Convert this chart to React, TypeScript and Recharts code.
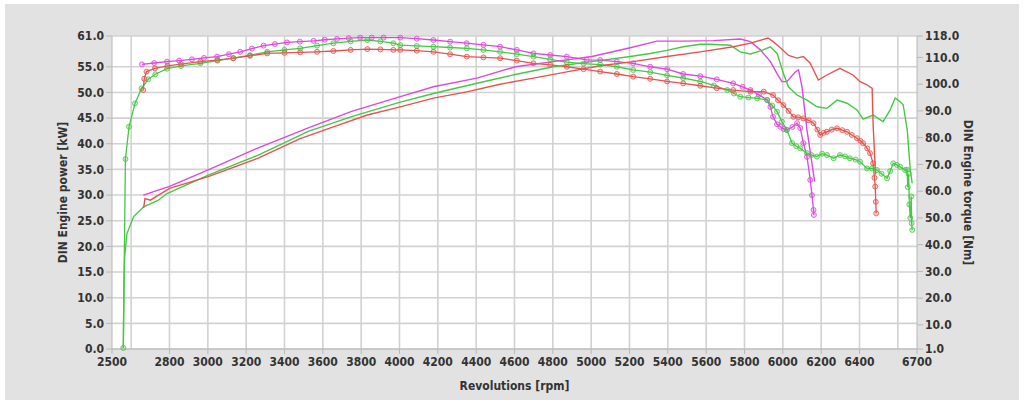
import React from 'react';
import { LineChart, Line, XAxis, YAxis, CartesianGrid, ReferenceLine, Label } from 'recharts';

const FONT = '"DejaVu Sans Condensed", "DejaVu Sans", sans-serif';

const xTicks = [2500, 2800, 3000, 3200, 3400, 3600, 3800, 4000, 4200, 4400, 4600, 4800, 5000, 5200, 5400, 5600, 5800, 6000, 6200, 6400, 6700];
const xGrid = [2600, 2800, 3000, 3200, 3400, 3600, 3800, 4000, 4200, 4400, 4600, 4800, 5000, 5200, 5400, 5600, 5800, 6000, 6200, 6400, 6600];
const powerTicks = [0, 5, 10, 15, 20, 25, 30, 35, 40, 45, 50, 55, 61];
const torqueTicks = [1, 10, 20, 30, 40, 50, 60, 70, 80, 90, 100, 110, 118];

const MAGENTA = '#dd48dd';
const GREEN = '#46c846';
const RED = '#e4544e';

// Magenta run
const magentaPowerRpm = [2663, 2800, 3002, 3250, 3524, 3750, 4004, 4177, 4404, 4604, 4802, 5004, 5204, 5343, 5480, 5637, 5778, 5831, 5883, 5935, 5969, 5995, 6021, 6065, 6082, 6100, 6126, 6152, 6166];
const magentaPowerKw = [30.0, 31.7, 34.9, 39.0, 43.1, 46.3, 49.2, 51.1, 52.8, 55.0, 56.0, 57.0, 58.7, 60.0, 60.0, 60.1, 60.4, 59.9, 58.3, 56.0, 53.7, 52.1, 52.1, 54.0, 54.4, 51.1, 42.7, 36.2, 32.6];
const magentaTorqueRpm = [2656, 2720, 2787, 2850, 2917, 2980, 3048, 3110, 3169, 3230, 3291, 3350, 3413, 3480, 3552, 3610, 3674, 3735, 3795, 3855, 3917, 4004, 4090, 4177, 4264, 4351, 4438, 4525, 4612, 4699, 4786, 4873, 4977, 5047, 5134, 5219, 5308, 5396, 5480, 5569, 5655, 5741, 5790, 5831, 5875, 5918, 5935, 5949, 5970, 5987, 6005, 6021, 6050, 6074, 6091, 6107, 6126, 6143, 6152, 6160, 6162];
const magentaTorqueNm = [107.4, 107.9, 108.4, 108.8, 109.3, 109.8, 110.3, 111.2, 112.1, 113.3, 114.4, 115.0, 115.6, 115.9, 116.2, 116.6, 116.9, 117.2, 117.4, 117.4, 117.4, 117.4, 117.0, 116.5, 115.9, 115.3, 114.7, 114.0, 112.8, 111.5, 110.9, 110.3, 109.1, 109.0, 108.4, 107.8, 106.5, 105.6, 103.8, 103.0, 101.8, 100.3, 99.0, 97.8, 96.0, 94.1, 91.5, 87.8, 85.0, 84.1, 83.2, 82.9, 84.0, 85.4, 83.6, 78.0, 72.8, 64.2, 58.5, 53.0, 51.1];

// Green run
const greenPowerRpm = [2559, 2561, 2563, 2566, 2578, 2613, 2665, 2742, 2787, 3002, 3263, 3524, 3750, 4004, 4177, 4404, 4604, 4802, 5004, 5204, 5308, 5396, 5480, 5569, 5621, 5726, 5778, 5831, 5883, 5935, 5970, 6003, 6029, 6074, 6126, 6178, 6230, 6283, 6335, 6387, 6419, 6471, 6523, 6560, 6586, 6612, 6628, 6649, 6665, 6675];
const greenPowerKw = [0.2, 8.0, 14.0, 18.0, 22.5, 25.8, 27.7, 29.0, 30.3, 33.9, 37.8, 42.4, 45.3, 48.1, 49.8, 51.8, 53.5, 55.0, 56.0, 57.0, 57.6, 58.2, 58.9, 59.4, 59.4, 59.2, 57.9, 57.5, 58.1, 58.9, 57.6, 53.7, 51.1, 49.5, 48.5, 47.2, 46.9, 48.5, 47.9, 46.6, 44.8, 45.6, 44.3, 46.6, 48.9, 48.2, 47.6, 42.7, 34.9, 32.3];
const greenTorqueRpm = [2559, 2570, 2589, 2620, 2654, 2689, 2726, 2787, 2860, 2961, 3050, 3133, 3220, 3310, 3400, 3482, 3570, 3655, 3745, 3832, 3900, 3968, 4004, 4090, 4177, 4264, 4351, 4438, 4525, 4612, 4699, 4786, 4873, 4960, 5047, 5134, 5219, 5308, 5396, 5480, 5569, 5640, 5710, 5745, 5778, 5820, 5866, 5918, 5945, 5970, 5995, 6021, 6048, 6070, 6091, 6126, 6150, 6178, 6205, 6230, 6265, 6298, 6325, 6350, 6380, 6403, 6439, 6465, 6491, 6515, 6544, 6560, 6576, 6595, 6612, 6638, 6648, 6652, 6656, 6660, 6665, 6670, 6672, 6675];
const greenTorqueNm = [1.4, 72.0, 84.1, 92.8, 98.4, 101.8, 103.7, 105.8, 106.8, 107.8, 108.8, 109.7, 110.8, 112.1, 112.8, 113.4, 114.4, 115.3, 116.0, 116.5, 116.0, 115.3, 114.6, 114.3, 114.0, 113.7, 113.4, 112.8, 112.1, 111.2, 110.3, 109.3, 108.2, 107.7, 107.3, 106.5, 105.3, 104.5, 103.3, 102.3, 101.0, 99.5, 97.8, 96.5, 95.3, 95.0, 94.7, 94.1, 92.0, 89.7, 86.0, 82.9, 78.0, 76.8, 76.0, 74.2, 73.5, 72.9, 74.0, 73.5, 72.3, 73.5, 73.0, 72.3, 71.8, 71.0, 68.5, 68.5, 67.9, 66.5, 64.8, 67.5, 70.4, 69.8, 69.1, 67.9, 68.0, 61.5, 66.5, 55.0, 50.0, 58.0, 48.0, 45.5];

// Red run
const redPowerRpm = [2665, 2672, 2700, 2800, 3002, 3263, 3482, 3655, 3832, 4004, 4177, 4351, 4525, 4699, 4873, 5047, 5219, 5396, 5569, 5741, 5831, 5923, 5949, 5987, 6030, 6074, 6107, 6143, 6185, 6230, 6298, 6366, 6403, 6439, 6466, 6471, 6484];
const redPowerKw = [27.5, 29.3, 29.0, 31.3, 33.6, 37.2, 41.0, 43.3, 45.6, 47.2, 48.9, 50.1, 51.6, 52.8, 54.0, 55.2, 56.0, 57.0, 57.9, 58.9, 59.6, 60.6, 59.9, 58.7, 57.2, 56.7, 57.0, 55.7, 52.4, 53.4, 54.7, 53.4, 52.1, 51.5, 50.8, 43.7, 34.0];
const redTorqueRpm = [2663, 2668, 2680, 2724, 2790, 2860, 2961, 3050, 3133, 3220, 3310, 3400, 3482, 3570, 3655, 3745, 3832, 3900, 3968, 4004, 4090, 4177, 4264, 4351, 4438, 4525, 4612, 4699, 4786, 4873, 4960, 5047, 5134, 5219, 5308, 5396, 5480, 5569, 5655, 5741, 5831, 5900, 5949, 5975, 6003, 6030, 6055, 6080, 6107, 6135, 6160, 6180, 6195, 6213, 6230, 6255, 6283, 6310, 6335, 6360, 6387, 6405, 6419, 6440, 6455, 6471, 6478, 6482, 6485, 6487];
const redTorqueNm = [97.8, 102.0, 104.7, 105.9, 106.8, 107.5, 108.4, 109.0, 109.7, 110.6, 111.5, 111.7, 111.9, 112.1, 112.4, 112.8, 113.1, 113.0, 112.8, 112.8, 112.5, 112.1, 111.2, 110.3, 110.0, 109.7, 108.8, 107.8, 107.2, 106.5, 105.6, 104.7, 103.8, 102.8, 102.0, 101.0, 100.3, 99.4, 98.5, 97.8, 97.2, 97.2, 95.9, 94.0, 92.2, 90.0, 87.8, 87.6, 87.2, 86.5, 85.4, 83.0, 81.0, 81.8, 82.2, 83.0, 83.5, 82.8, 82.2, 81.0, 79.8, 78.8, 77.9, 76.0, 74.2, 70.4, 65.0, 61.7, 56.0, 51.7];

const zip = (rpm: number[], vals: number[], key: string) =>
  rpm.map((r, i) => ({ rpm: r, [key]: vals[i] }));

const tickStyle = { fill: '#333', fontSize: 12, fontWeight: 700, fontFamily: FONT };
const labelStyle = { textAnchor: 'middle' as const, fill: '#333', fontSize: 12, fontWeight: 700, fontFamily: FONT };

const dotFor = (c: string) => ({ r: 2.5, stroke: c, strokeWidth: 1, strokeOpacity: 0.8, fill: c, fillOpacity: 0.25 });

export default function App() {
  const powerSeries = [
    { name: 'magentaP', data: zip(magentaPowerRpm, magentaPowerKw, 'kw'), color: MAGENTA },
    { name: 'greenP', data: zip(greenPowerRpm, greenPowerKw, 'kw'), color: GREEN },
    { name: 'redP', data: zip(redPowerRpm, redPowerKw, 'kw'), color: RED },
  ];
  const torqueSeries = [
    { name: 'magentaT', data: zip(magentaTorqueRpm, magentaTorqueNm, 'nm'), color: MAGENTA },
    { name: 'greenT', data: zip(greenTorqueRpm, greenTorqueNm, 'nm'), color: GREEN },
    { name: 'redT', data: zip(redTorqueRpm, redTorqueNm, 'nm'), color: RED },
  ];
  return (
    <div style={{ position: 'absolute', left: 0, top: 0, width: 1024, height: 403, background: '#ffffff' }}>
      <div style={{ position: 'absolute', left: 5, top: 4, width: 1014, height: 396, background: '#e2e2e2' }} />
      <div style={{ position: 'absolute', left: 0, top: 0 }}>
        <LineChart width={1024} height={403} margin={{ top: 36, right: 0, bottom: 0, left: 0 }}>
          <CartesianGrid yAxisId="left" vertical={false} stroke="#d2d2d2" strokeWidth={1.6} fill="#ffffff" fillOpacity={1} />
          {xGrid.map((x) => (
            <ReferenceLine key={x} x={x} yAxisId="left" stroke="#d2d2d2" strokeWidth={1.6} />
          ))}
          <XAxis
            dataKey="rpm"
            type="number"
            domain={[2500, 6700]}
            ticks={xTicks}
            interval={0}
            allowDataOverflow
            height={54}
            tickSize={5}
            tickMargin={3}
            stroke="#b8b8b8"
            tick={tickStyle}
          >
            <Label value="Revolutions [rpm]" position="insideBottom" offset={13} style={labelStyle} />
          </XAxis>
          <YAxis
            yAxisId="left"
            type="number"
            domain={[0, 61]}
            ticks={powerTicks}
            interval={0}
            width={112}
            tickSize={6}
            tickMargin={2}
            stroke="#b8b8b8"
            tick={tickStyle}
            tickFormatter={(v: number) => v.toFixed(1)}
          >
            <Label value="DIN Engine power [kW]" angle={-90} position="insideLeft" offset={63} style={labelStyle} />
          </YAxis>
          <YAxis
            yAxisId="right"
            orientation="right"
            type="number"
            domain={[1, 118]}
            ticks={torqueTicks}
            interval={0}
            width={107}
            tickSize={6}
            tickMargin={2}
            stroke="#b8b8b8"
            tick={tickStyle}
            tickFormatter={(v: number) => v.toFixed(1)}
          >
            <Label value="DIN Engine torque [Nm]" angle={90} position="insideRight" offset={56} style={labelStyle} />
          </YAxis>
          {torqueSeries.map((s) => (
            <Line
              key={s.name}
              yAxisId="right"
              data={s.data}
              dataKey="nm"
              type="linear"
              stroke={s.color}
              strokeWidth={1.3}
              dot={dotFor(s.color)}
              activeDot={false}
              isAnimationActive={false}
            />
          ))}
          {powerSeries.map((s) => (
            <Line
              key={s.name}
              yAxisId="left"
              data={s.data}
              dataKey="kw"
              type="linear"
              stroke={s.color}
              strokeWidth={1.4}
              dot={false}
              activeDot={false}
              isAnimationActive={false}
            />
          ))}
        </LineChart>
      </div>
    </div>
  );
}
